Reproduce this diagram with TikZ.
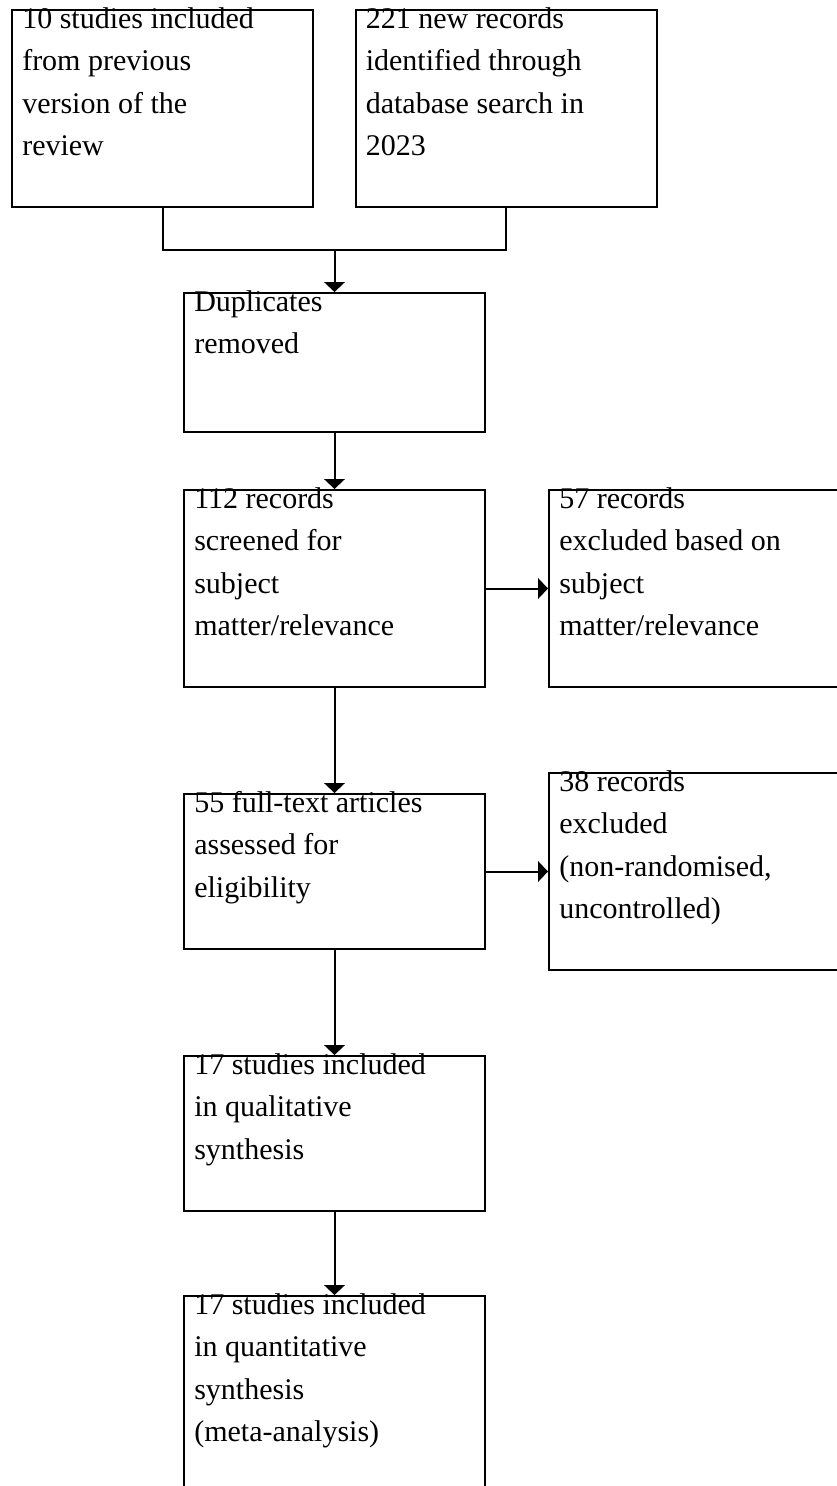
\documentclass[tikz,border=0pt]{standalone}
\usepackage{fontspec}
\setmainfont{Liberation Serif}
\usetikzlibrary{arrows.meta}
\tikzset{
  box/.style={draw=black, line width=1.5pt, fill=white, inner sep=0pt, minimum width=225.75pt},
  txt/.style={anchor=base west, inner sep=0pt, font=\fontsize{22.5pt}{31.9pt}\selectfont},
  link/.style={draw=black, line width=1.5pt},
  arr/.style={link, -{Triangle[length=7.5pt, width=15.5pt]}}
}
\newcommand{\boxlines}[1]{\begin{tabular}[t]{@{}l@{}}#1\end{tabular}}
\begin{document}
\begin{tikzpicture}[x=0.75pt, y=-0.75pt]
\useasboundingbox (0,0) rectangle (837,1486);
\fill[white] (0,0) rectangle (837,1486);
\clip (0,0) rectangle (837,1486);
% boxes
\node[box, minimum height=147.75pt] (b1) at (162.5,108.5) {};
\node[box, minimum height=147.75pt] (b2) at (506,108.5) {};
\node[box, minimum height=104.25pt] (b3) at (334.5,362.5) {};
\node[box, minimum height=147.75pt] (b4) at (334.5,588.5) {};
\node[box, minimum height=147.75pt] (b5) at (699.5,588.5) {};
\node[box, minimum height=116.25pt] (b6) at (334.5,871.5) {};
\node[box, minimum height=147.75pt] (b7) at (699.5,871.5) {};
\node[box, minimum height=116.25pt] (b8) at (334.5,1133.5) {};
\node[box, minimum height=147.75pt] (b9) at (334.5,1394.5) {};
% texts
\node[txt] (t1) at ([shift={(11,19)}]b1.north west) {\boxlines{10 studies included\\from previous\\version of the\\review}};
\node[txt] (t2) at ([shift={(11,19)}]b2.north west) {\boxlines{221 new records\\identified through\\database search in\\2023}};
\node[txt] (t3) at ([shift={(11,19)}]b3.north west) {\boxlines{Duplicates\\removed}};
\node[txt] (t4) at ([shift={(11,19)}]b4.north west) {\boxlines{112 records\\screened for\\subject\\matter/relevance}};
\node[txt] (t5) at ([shift={(11,19)}]b5.north west) {\boxlines{57 records\\excluded based on\\subject\\matter/relevance}};
\node[txt] (t6) at ([shift={(11,19)}]b6.north west) {\boxlines{55 full-text articles\\assessed for\\eligibility}};
\node[txt] (t7) at ([shift={(11,19)}]b7.north west) {\boxlines{38 records\\excluded\\(non-randomised,\\uncontrolled)}};
\node[txt] (t8) at ([shift={(11,19)}]b8.north west) {\boxlines{17 studies included\\in qualitative\\synthesis}};
\node[txt] (t9) at ([shift={(11,19)}]b9.north west) {\boxlines{17 studies included\\in quantitative\\synthesis\\(meta-analysis)}};
% connectors
\coordinate (jn) at (334.5,250);
\draw[link] (b1.south) |- (jn) -| (b2.south);
\draw[arr] (jn) -- (b3.north);
\draw[arr] (b3.south) -- (b4.north);
\draw[arr] (b4.east) -- (b5.west);
\draw[arr] (b4.south) -- (b6.north);
\draw[arr] (b6.east) -- (b7.west);
\draw[arr] (b6.south) -- (b8.north);
\draw[arr] (b8.south) -- (b9.north);
\end{tikzpicture}
\end{document}
